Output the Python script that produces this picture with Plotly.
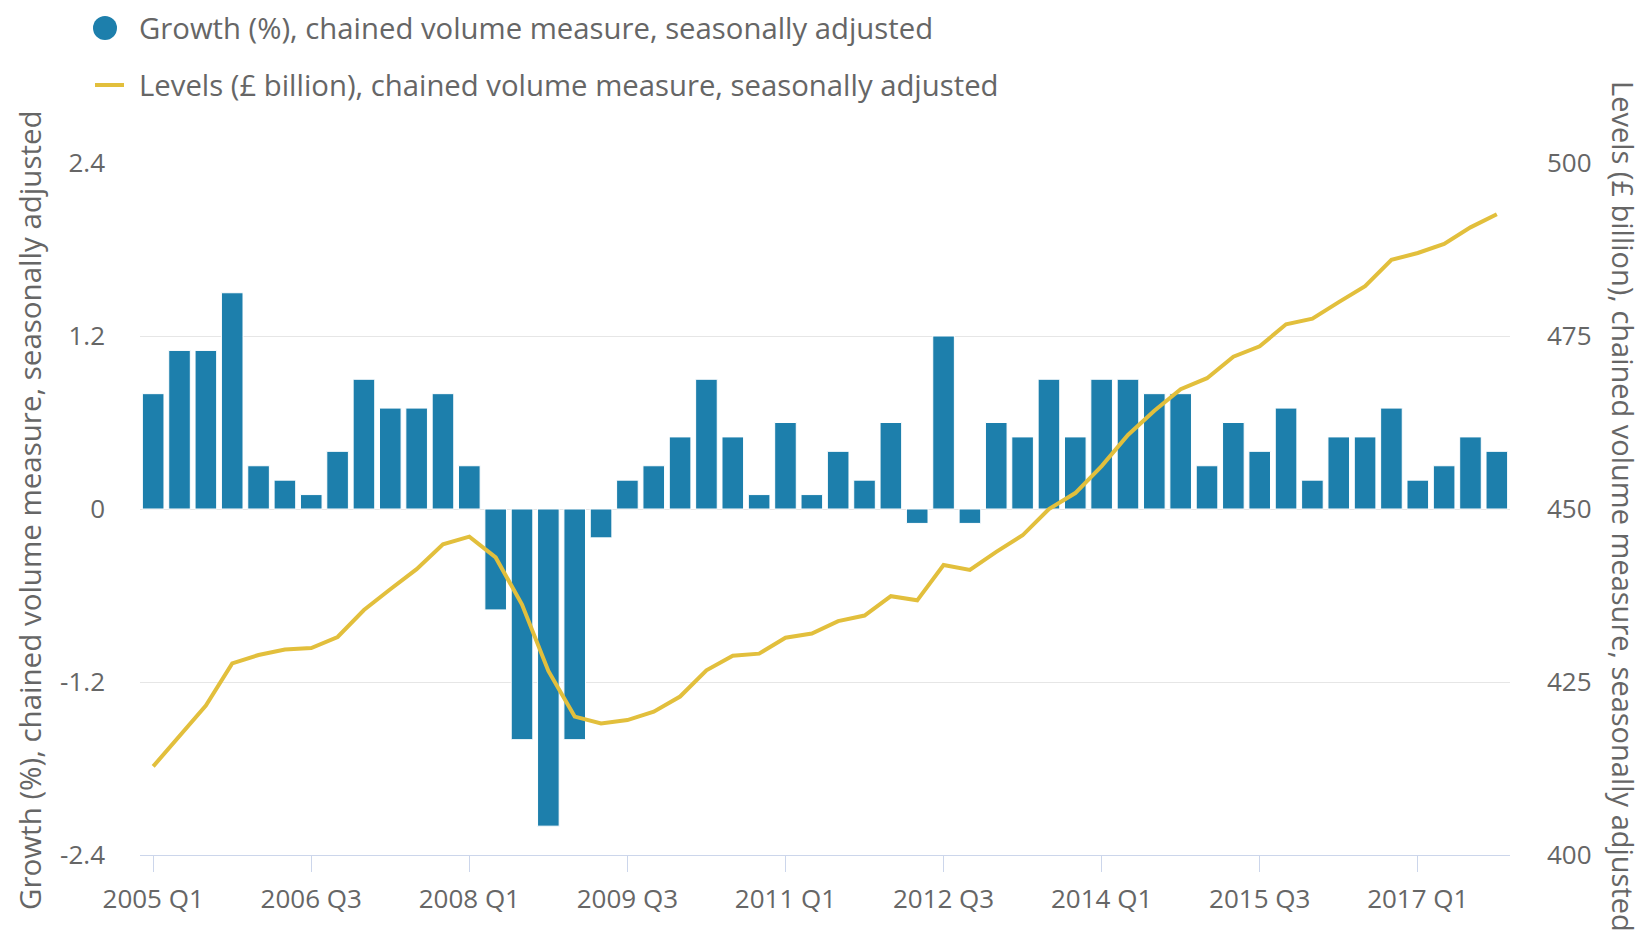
import plotly.graph_objects as go

# ---- data ----
quarters = [f"{y} Q{q}" for y in range(2005, 2018) for q in range(1, 5)]

growth_pct = [0.8, 1.1, 1.1, 1.5, 0.3, 0.2, 0.1, 0.4, 0.9, 0.7, 0.7, 0.8, 0.3,
              -0.7, -1.6, -2.2, -1.6, -0.2,
              0.2, 0.3, 0.5, 0.9, 0.5, 0.1, 0.6, 0.1, 0.4, 0.2, 0.6, -0.1, 1.2, -0.1,
              0.6, 0.5, 0.9, 0.5, 0.9,
              0.9, 0.8, 0.8, 0.3, 0.6, 0.4, 0.7, 0.2, 0.5, 0.5, 0.7, 0.2, 0.3, 0.5, 0.4]

levels_bn = [412.8, 417.1, 421.6, 427.7, 428.9, 429.7, 429.9, 431.5, 435.4, 438.4,
             441.3, 444.9, 446.0, 443.0, 436.2, 426.6, 420.0, 419.0, 419.5, 420.7,
             422.9, 426.7, 428.8, 429.1, 431.4, 432.0, 433.8, 434.6, 437.4, 436.8,
             441.9, 441.2, 443.8, 446.2, 450.0, 452.3, 456.2, 460.7, 464.2, 467.3,
             468.9, 472.0, 473.5, 476.7, 477.5, 479.9, 482.2, 486.0, 487.0, 488.3,
             490.7, 492.6]

x_ticks = quarters[::6]
left_ticks = [-2.4, -1.2, 0, 1.2, 2.4]
left_ticktext = ["-2.4", "-1.2", "0", "1.2", "2.4"]
right_ticks = [400, 425, 450, 475, 500]

growth_name = "Growth (%), chained volume measure, seasonally adjusted"
levels_name = "Levels (£ billion), chained volume measure, seasonally adjusted"

BLUE = "#1d7fac"
GOLD = "#e2bf3c"
TXT = "#666666"
FONT = "Open Sans"

# the page body has an 8px margin, so the figure is 16px smaller than the window
OFF = 8
W, H = 1650 - 2 * OFF, 942 - 2 * OFF
ML, MR, MT, MB = 132, 132, 155, 79
PW, PH = W - ML - MR, H - MT - MB


def px_x(sx):  # screen px -> paper x
    return (sx - OFF - ML) / PW


def px_y(sy):  # screen px -> paper y
    return (H - MB - (sy - OFF)) / PH


fig = go.Figure()
fig.add_trace(go.Bar(x=quarters, y=growth_pct, name=growth_name,
                     marker=dict(color=BLUE, line=dict(color="white", width=1)),
                     yaxis="y"))
fig.add_trace(go.Scatter(x=quarters, y=levels_bn, mode="lines", name=levels_name,
                         line=dict(color=GOLD, width=4), yaxis="y2"))

# legend drawn as shapes + text (circle marker for the bar series, line for levels)
leg_row1, leg_row2 = 28, 85
shapes = [
    dict(type="circle", xref="paper", yref="paper", xsizemode="pixel", ysizemode="pixel",
         xanchor=px_x(105), yanchor=px_y(leg_row1), x0=-12, x1=12, y0=-12, y1=12,
         fillcolor=BLUE, line=dict(width=0)),
    dict(type="line", xref="paper", yref="paper",
         x0=px_x(95), x1=px_x(124), y0=px_y(leg_row2), y1=px_y(leg_row2),
         line=dict(color=GOLD, width=4)),
]

fig.update_layout(
    width=W, height=H,
    margin=dict(l=ML, r=MR, t=MT, b=MB, pad=0, autoexpand=False),
    paper_bgcolor="white", plot_bgcolor="white",
    font=dict(family=FONT, size=29, color=TXT),
    bargap=0.18,
    showlegend=False,
    xaxis=dict(type="category", categoryorder="array", categoryarray=quarters,
               range=[-0.5, 51.5], tickmode="array", tickvals=x_ticks, ticktext=x_ticks,
               showgrid=False, showline=True, linecolor="#ccd6eb", linewidth=1,
               ticks="outside", ticklen=16, tickcolor="#ccd6eb", tickwidth=1,
               ticklabelstandoff=5,
               tickfont=dict(family=FONT, size=26, color=TXT), zeroline=False),
    yaxis=dict(range=[-2.4, 2.4], tickmode="array", tickvals=left_ticks, ticktext=left_ticktext,
               showgrid=True, gridcolor="#e6e6e6", gridwidth=1, zeroline=False,
               showline=False, ticks="", ticklabelstandoff=34,
               tickfont=dict(family=FONT, size=26, color=TXT)),
    yaxis2=dict(range=[400, 500], tickmode="array", tickvals=right_ticks,
                overlaying="y", side="right", showgrid=False, zeroline=False,
                showline=False, ticks="", ticklabelstandoff=36,
                tickfont=dict(family=FONT, size=26, color=TXT)),
    shapes=shapes,
    annotations=[
        dict(text=growth_name, xref="paper", yref="paper", x=px_x(138), y=px_y(leg_row1),
             showarrow=False, xanchor="left", yanchor="middle", borderpad=0,
             font=dict(family=FONT, size=29.3, color=TXT)),
        dict(text=levels_name, xref="paper", yref="paper", x=px_x(138), y=px_y(leg_row2),
             showarrow=False, xanchor="left", yanchor="middle", borderpad=0,
             font=dict(family=FONT, size=29.3, color=TXT)),
        dict(text=growth_name, xref="paper", yref="paper", x=px_x(30), y=px_y(510),
             textangle=-90, showarrow=False, xanchor="center", yanchor="middle", borderpad=0,
             font=dict(family=FONT, size=29.5, color=TXT)),
        dict(text=levels_name, xref="paper", yref="paper", x=px_x(1624), y=px_y(506),
             textangle=90, showarrow=False, xanchor="center", yanchor="middle", borderpad=0,
             font=dict(family=FONT, size=29, color=TXT)),
    ],
)

fig.write_html("out.html")
